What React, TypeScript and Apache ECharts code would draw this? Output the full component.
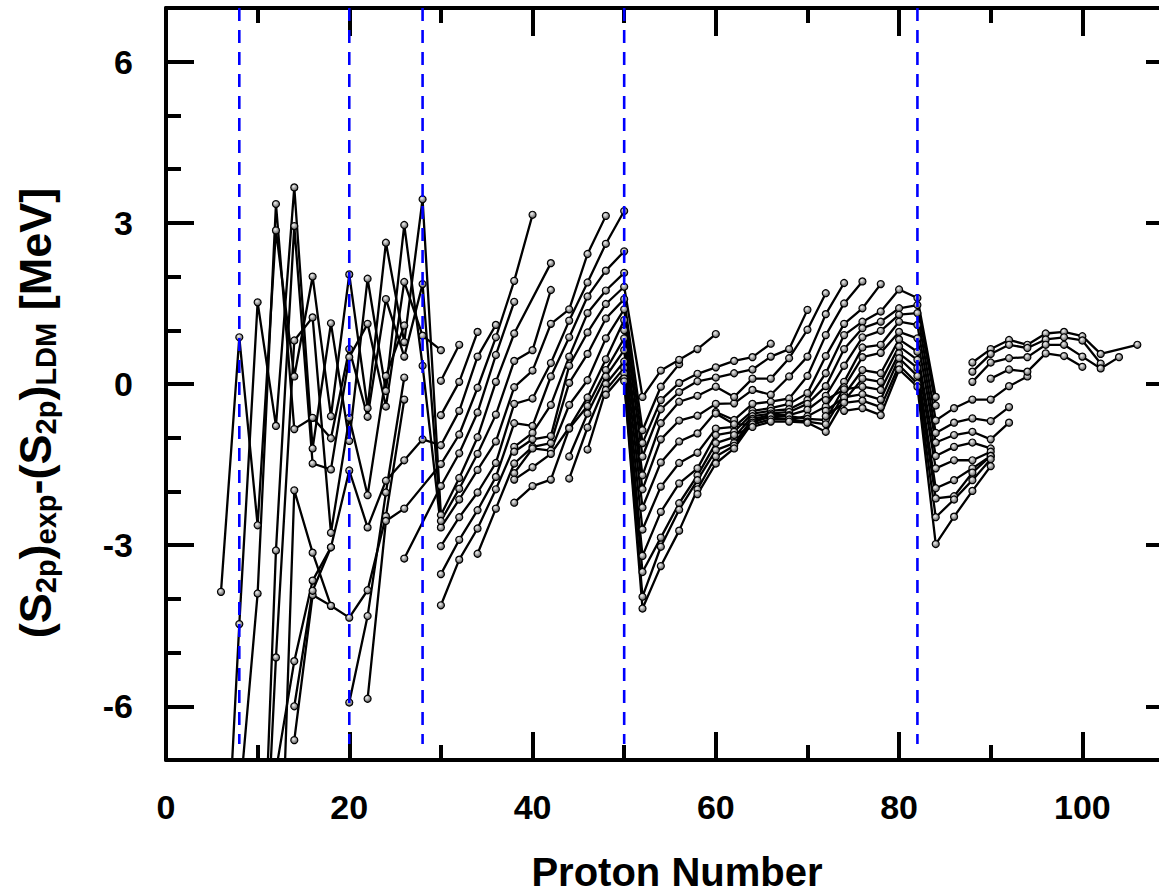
import React, { useEffect, useRef } from 'react';
import * as echarts from 'echarts';

// Magic proton numbers (blue dashed guides)
const magicNumbers = [8, 20, 28, 50, 82];
const xTickLabels = [0, 20, 40, 60, 80, 100];
const yTickLabels = [-6, -3, 0, 3, 6];

// Each chain: [first Z, value at Z, value at Z+2, ...]; null = no point at that Z
const lightChains: (number | null)[][] = [
  [6, -3.87, 0.87, -2.63, 2.86, 0.14, 2.0, -0.6, 2.04, -0.45, 2.63, 0.78, 3.44, -2.44, -1.75, -0.99, 0.04, 0.94, null, 2.25],
  [6, -11, -4.47, 1.52, -0.78, 3.66, -1.2, 1.13, -1.06, 1.96, -0.13, 2.96, 0.34, -2.67, -2.15, -1.6, -1.07, -0.06, 0.25, 1.12, 1.39, 2.42, 3.13],
  [8, -7.8, -3.9, 3.35, -0.84, -0.63, -1.01, 0.65, -0.61, 1.58, 0.51, 1.86, -2.55, -1.95, -1.3, -0.57, 0.43, 0.63, 1.75],
  [10, -12, -3.1, 2.94, -1.48, -1.59, 0.5, 1.12, -0.42, 1.9, 0.9, 0.63],
  [10, -12, -5.09, 0.81, 1.24, -2.77, -0.63, -2.07, 0.15, 1.09],
  [12, -7.2, -5.16, -3.66, -3.04, -1.61, -2.67, -1.8, -1.42, -1.03, -1.14, -0.5, 0.51, 1.1],
  [12, -12, -1.98, -3.14, -4.13, -4.35, -3.84, -2.46, -0.29],
  [14, -6.63, -3.93, -4.13],
  [14, -6.0, -3.85, -3.04],
  [20, -5.93, -4.32, -2.02, 0.12],
  [22, -5.86, -2.55, -2.32, null, -1.49, -0.94, -0.07, 0.87, 1.92, 3.15],
  [26, -3.25, null, -1.9, -1.29, -0.53, 0.54, 1.53],
];

const midChains: (number | null)[][] = [
  [30, 0.06, 0.73],
  [30, -0.58, 0.04, 0.97],
  [30, -3.02, -2.48, -2.02, -1.47, -0.37, -0.27, 0.39, 1.18, 1.89, 2.61, 3.22],
  [30, -3.54, -2.9, -2.35, -1.73, -0.73, -0.78, 0.14, 0.87, 1.63, 2.11, 2.47],
  [30, -4.12, -3.27, -2.69, -1.96, -1.17, -0.91, -0.39, 0.51, 1.32, 1.74, 2.07],
  [34, -3.16, -2.32, -1.48, -1.17, -1.1, 0.02, 0.56, 1.22, 1.58, -0.86, -0.05, 0.37],
  [38, -1.26, -1.03, -0.97, 0.34, 0.96, 1.49, 1.81, -0.24, 0.25, 0.45, 0.65, 0.93],
  [38, -1.66, -1.2, -1.24, -0.39, 0.07, 0.85, 1.39, -1.1, -0.3, 0.02, 0.19, 0.31, 0.43, 0.5, 0.75],
  [38, -1.78, -1.55, -1.3, -0.81, -0.25, 0.46, 1.19, -1.35, -0.47, -0.15, 0.05, 0.12, 0.2, 0.27, 0.51, 0.65, 1.38],
  [38, -2.21, -1.9, -1.78, -0.83, -0.41, 0.26, 0.85, -1.96, -1.03, -0.68, -0.59, -0.37, -0.36, -0.11, -0.2, 0.14, 0.51, 1.3, 1.88],
  [50, 1.0, -1.7, -0.73, -0.33, -0.22, -0.05, -0.24, 0.1, 0.1, 0.48, 1.01, 1.69],
  [44, -1.35, -0.55, 0.14, 0.63, -2.3, -1.46, -1.07, -0.92, -0.52, -0.67, -0.37, -0.33, -0.27, 0.15, 0.91, 1.5, 1.91],
  [44, -1.76, -0.81, 0, 0.42, -2.71, -1.91, -1.47, -1.28, -0.83, -0.8, -0.5, -0.45, -0.37, -0.17, 0.52, 1.12, 1.41, 1.86],
  [46, -1.22, -0.11, 0.3, -3.2, -2.38, -1.85, -1.57, -0.95, -0.89, -0.55, -0.5, -0.47, -0.3, 0.2, 0.91, 1.16, 1.35, 1.76, 1.6, -0.24],
  [48, -0.2, 0.2, -3.5, -2.86, -2.22, -1.7, -1.1, -0.99, -0.6, -0.55, -0.52, -0.37, -0.04, 0.65, 1.04, 1.16, 1.41, 1.47, -0.4],
  [50, 0.1, -3.96, -3.03, -2.34, -1.79, -1.23, -1.1, -0.65, -0.58, -0.58, -0.48, -0.22, 0.34, 0.87, 0.99, 1.29, 1.32, -0.68, -0.45, -0.29, -0.29, -0.04, 0.14],
  [50, 0.05, -4.18, -3.39, -2.73, -1.96, -1.35, -1.15, -0.68, -0.62, -0.66, -0.6, -0.42, 0.04, 0.68, 0.73, 1.16, 1.1, -0.91, -0.72, -0.64, -0.69, -0.43],
];

const heavyChains: (number | null)[][] = [
  [58, -2.05, -1.48, -1.2, -0.72, -0.6, -0.6, -0.65, -0.67, -0.06, 0.5, 0.58, 0.97, 0.85, -1.09, -0.95, -0.89, -1.03, -0.72],
  [60, -0.55, -0.75, -0.75, -0.66, -0.66, -0.7, -0.75, -0.2, 0.26, 0.2, 0.83, 0.6, -1.34, -1.17, -1.09, -1.2],
  [62, -0.95, -0.8, -0.7, -0.7, -0.72, -0.89, -0.31, 0.1, 0.04, 0.7, 0.45, -1.57, -1.42, -1.42, -1.26],
  [72, -0.3, -0.1, -0.05, -0.11, 0.57, 0.3, -1.94, -1.79, -1.57, -1.34],
  [72, -0.5, -0.25, -0.19, -0.29, 0.48, 0.15, -2.13, -2.09, -1.65, -1.34],
  [72, -0.6, -0.35, -0.31, -0.43, 0.35, 0.01, -2.48, -2.15, -1.79, -1.4],
  [74, -0.5, -0.45, -0.58, 0.27, -0.05, -2.98, -2.47, -1.99, -1.53],
];

const superHeavyChains: (number | null)[][] = [
  [88, 0.4, 0.65, 0.82, 0.73, 0.94, 0.97, 0.89, 0.56, null, 0.73],
  [88, 0.23, 0.56, 0.73, 0.67, 0.83, 0.87, 0.81, 0.38],
  [88, 0.04, 0.4, 0.48, 0.5, 0.73, 0.73, 0.51, 0.29, 0.5],
  [90, 0.1, 0.27, 0.23, 0.57, 0.52, 0.32],
];

const FONT = '"Liberation Sans", Arial, Helvetica, sans-serif';

function chainPoints(chain: (number | null)[]): number[][] {
  const z0 = chain[0] as number;
  const pts: number[][] = [];
  for (let i = 1; i < chain.length; i++) {
    const v = chain[i];
    if (v !== null && v !== undefined) pts.push([z0 + 2 * (i - 1), v]);
  }
  return pts;
}

function buildOption(): any {
  const allChains = [...lightChains, ...midChains, ...heavyChains, ...superHeavyChains];
  const markerFill = {
    type: 'radial',
    x: 0.4,
    y: 0.35,
    r: 0.65,
    colorStops: [
      { offset: 0, color: '#f2f2f2' },
      { offset: 1, color: '#5a5a5a' },
    ],
  };
  const dataSeries = allChains.map((c) => ({
    type: 'line',
    xAxisIndex: 0,
    yAxisIndex: 0,
    data: chainPoints(c),
    symbol: 'circle',
    symbolSize: 7,
    showSymbol: true,
    clip: true,
    silent: true,
    z: 2,
    lineStyle: { color: '#000', width: 2.3 },
    itemStyle: { color: markerFill, borderColor: '#000', borderWidth: 1.2 },
    emphasis: { disabled: true },
  }));
  const magicSeries = magicNumbers.map((m) => ({
    type: 'line',
    xAxisIndex: 0,
    yAxisIndex: 0,
    data: [
      [m, 7],
      [m, -6.7],
    ],
    symbol: 'none',
    silent: true,
    z: 5,
    lineStyle: { color: '#0000ff', width: 2.6, type: [13, 9] },
  }));

  const axisLineStyle = { color: '#000', width: 4 };
  const minorTick = { show: true, inside: true, length: 15, lineStyle: { color: '#000', width: 4 } };
  const majorTickStyle = { color: '#000', width: 4 };
  const labelStyle = { fontSize: 34, fontWeight: 'bold', color: '#000', fontFamily: FONT };

  const xBase = (pos: string, grid: number) => ({
    type: 'value',
    gridIndex: grid,
    position: pos,
    min: 0,
    max: 110,
    splitLine: { show: false },
  });
  const yBase = (pos: string, grid: number) => ({
    type: 'value',
    gridIndex: grid,
    position: pos,
    min: -7,
    max: 7,
    splitLine: { show: false },
  });

  return {
    animation: false,
    backgroundColor: '#fff',
    grid: [
      { left: 166, top: 8, width: 1008, height: 752, containLabel: false },
      { left: 166, top: 8, width: 1008, height: 752, containLabel: false },
    ],
    xAxis: [
      {
        ...xBase('bottom', 0),
        interval: 10,
        axisLine: { show: true, onZero: false, lineStyle: axisLineStyle },
        axisTick: minorTick,
        axisLabel: { show: false },
      },
      {
        ...xBase('top', 0),
        interval: 10,
        axisLine: { show: true, onZero: false, lineStyle: axisLineStyle },
        axisTick: minorTick,
        axisLabel: { show: false },
      },
      {
        ...xBase('bottom', 1),
        axisLine: { show: false, onZero: false },
        axisTick: { show: true, inside: true, length: 28, customValues: xTickLabels, lineStyle: majorTickStyle },
        axisLabel: { show: true, customValues: xTickLabels, margin: 30, ...labelStyle },
      },
      {
        ...xBase('top', 1),
        axisLine: { show: false, onZero: false },
        axisTick: { show: true, inside: true, length: 28, customValues: xTickLabels, lineStyle: majorTickStyle },
        axisLabel: { show: false },
      },
    ],
    yAxis: [
      {
        ...yBase('left', 0),
        interval: 1,
        axisLine: { show: true, onZero: false, lineStyle: axisLineStyle },
        axisTick: minorTick,
        axisLabel: { show: false },
      },
      {
        ...yBase('right', 0),
        interval: 1,
        axisLine: { show: true, onZero: false, lineStyle: axisLineStyle },
        axisTick: minorTick,
        axisLabel: { show: false },
      },
      {
        ...yBase('left', 1),
        axisLine: { show: false, onZero: false },
        axisTick: { show: true, inside: true, length: 28, customValues: yTickLabels, lineStyle: majorTickStyle },
        axisLabel: { show: true, customValues: yTickLabels, margin: 33, ...labelStyle },
      },
      {
        ...yBase('right', 1),
        axisLine: { show: false, onZero: false },
        axisTick: { show: true, inside: true, length: 28, customValues: yTickLabels, lineStyle: majorTickStyle },
        axisLabel: { show: false },
      },
    ],
    graphic: [
      {
        type: 'text',
        x: 677,
        y: 872,
        silent: true,
        style: {
          text: 'Proton Number',
          fontSize: 40,
          fontWeight: 'bold',
          fontFamily: FONT,
          fill: '#000',
          align: 'center',
          verticalAlign: 'middle',
        },
      },
      {
        type: 'text',
        x: 35,
        y: 413,
        rotation: Math.PI / 2,
        silent: true,
        style: {
          text: '{m|(S}{s|2p}{m|)}{s|exp}{m|-(S}{s|2p}{m|)}{s|LDM}{m| [MeV]}',
          align: 'center',
          verticalAlign: 'middle',
          fill: '#000',
          rich: {
            m: { fontSize: 45, fontWeight: 'bold', fontFamily: FONT, lineHeight: 50, fill: '#000' },
            s: { fontSize: 29, fontWeight: 'bold', fontFamily: FONT, lineHeight: 24, verticalAlign: 'bottom', fill: '#000' },
          },
        },
      },
    ],
    series: [...dataSeries, ...magicSeries],
  };
}

export default function App() {
  const ref = useRef<HTMLDivElement>(null);
  useEffect(() => {
    if (!ref.current) return;
    const chart = echarts.init(ref.current, null, { renderer: 'svg' });
    chart.setOption(buildOption());
    return () => {
      chart.dispose();
    };
  }, []);
  return (
    <div
      style={{
        position: 'absolute',
        left: 0,
        top: 0,
        width: 1159,
        height: 894,
        overflow: 'hidden',
        background: '#fff',
      }}
    >
      <div ref={ref} style={{ width: 1190, height: 894 }} />
    </div>
  );
}
